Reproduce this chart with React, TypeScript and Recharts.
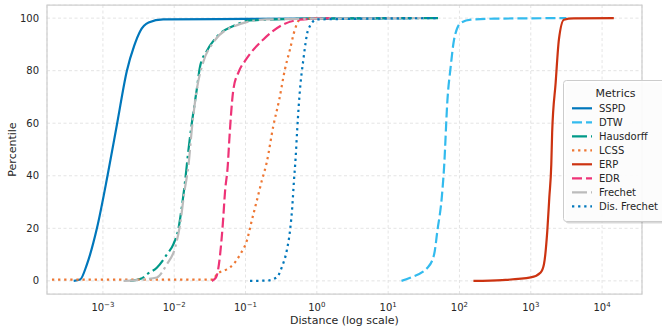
import React from 'react';
import { LineChart, Line, XAxis, YAxis, CartesianGrid, ReferenceArea } from 'recharts';

// ---- data ----
const SERIES_NAMES = ['SSPD', 'DTW', 'Hausdorff', 'LCSS', 'ERP', 'EDR', 'Frechet', 'Dis. Frechet'];

const sspd = [
  { x: 3.89e-4, y: 0 }, { x: 4.79e-4, y: 0.5 }, { x: 5.97e-4, y: 6.3 }, { x: 8.24e-4, y: 20 },
  { x: 1.16e-3, y: 40 }, { x: 1.585e-3, y: 60 }, { x: 2.17e-3, y: 80 }, { x: 2.75e-3, y: 89.5 },
  { x: 3.33e-3, y: 95 }, { x: 4.37e-3, y: 98.3 }, { x: 7.0e-3, y: 99.5 }, { x: 0.1, y: 99.7 },
  { x: 2, y: 99.9 }, { x: 20, y: 100 },
];
const dtw = [
  { x: 15.4, y: 0 }, { x: 20.8, y: 1.3 }, { x: 35.6, y: 5 }, { x: 44.1, y: 10 }, { x: 49.0, y: 19 },
  { x: 56.5, y: 31.7 }, { x: 60.8, y: 43 }, { x: 67.9, y: 69 }, { x: 75.5, y: 81.7 },
  { x: 84.1, y: 91.9 }, { x: 104.2, y: 98.2 }, { x: 143.9, y: 99.4 }, { x: 316, y: 99.8 },
  { x: 3162, y: 100 },
];
const hausdorff = [
  { x: 2.4e-3, y: 0 }, { x: 3.55e-3, y: 1 }, { x: 4.13e-3, y: 2.5 }, { x: 5.7e-3, y: 5 },
  { x: 7.87e-3, y: 10 }, { x: 9.75e-3, y: 14 }, { x: 1.148e-2, y: 20 }, { x: 1.276e-2, y: 28 },
  { x: 1.422e-2, y: 38 }, { x: 1.585e-2, y: 50 }, { x: 1.766e-2, y: 60 }, { x: 2.075e-2, y: 73 },
  { x: 2.307e-2, y: 81.7 }, { x: 2.864e-2, y: 87.5 }, { x: 3.98e-2, y: 93 }, { x: 6.76e-2, y: 97 },
  { x: 0.1156, y: 99.1 }, { x: 1, y: 99.8 }, { x: 50, y: 100 },
];
const lcss = [
  { x: 1.93e-4, y: 0.5 }, { x: 3.55e-2, y: 0.5 }, { x: 3.95e-2, y: 2.5 }, { x: 5.46e-2, y: 4.4 },
  { x: 6.76e-2, y: 6.3 }, { x: 8.38e-2, y: 10 }, { x: 0.104, y: 15.2 }, { x: 0.122, y: 22.8 },
  { x: 0.1436, y: 30.4 }, { x: 0.1687, y: 38 }, { x: 0.198, y: 45 }, { x: 0.245, y: 58.9 },
  { x: 0.297, y: 69 }, { x: 0.357, y: 80.5 }, { x: 0.42, y: 88.1 }, { x: 0.493, y: 95.7 },
  { x: 0.581, y: 99.5 }, { x: 1, y: 100 },
];
const erp = [
  { x: 157, y: 0 }, { x: 398, y: 0.3 }, { x: 1000, y: 1.3 }, { x: 1377, y: 3.2 }, { x: 1531, y: 6.3 },
  { x: 1706, y: 19 }, { x: 1820, y: 31.7 }, { x: 1941, y: 44.4 }, { x: 1995, y: 56.4 },
  { x: 2234, y: 75.4 }, { x: 2483, y: 91.9 }, { x: 2917, y: 99.4 }, { x: 3981, y: 99.9 },
  { x: 14620, y: 100 },
];
const edr = [
  { x: 3.37e-2, y: 0 }, { x: 3.86e-2, y: 1.3 }, { x: 4.4e-2, y: 10 }, { x: 4.8e-2, y: 21.6 },
  { x: 5.16e-2, y: 34 }, { x: 5.64e-2, y: 44 }, { x: 5.93e-2, y: 53.9 }, { x: 6.76e-2, y: 72.9 },
  { x: 8.0e-2, y: 79.5 }, { x: 0.1, y: 84 }, { x: 0.178, y: 91.9 }, { x: 0.339, y: 97.6 },
  { x: 0.581, y: 99.4 }, { x: 1.58, y: 100 },
];
const frechet = [
  { x: 1.945e-3, y: 0 }, { x: 2.99e-3, y: 0.3 }, { x: 5.7e-3, y: 1.3 }, { x: 7.87e-3, y: 6.3 },
  { x: 1.03e-2, y: 12.7 }, { x: 1.21e-2, y: 21.6 }, { x: 1.39e-2, y: 34 }, { x: 1.585e-2, y: 44 },
  { x: 1.766e-2, y: 57.7 }, { x: 2.075e-2, y: 72.9 }, { x: 2.57e-2, y: 83.5 }, { x: 3.55e-2, y: 90.8 },
  { x: 6.76e-2, y: 96.8 }, { x: 0.198, y: 99.5 }, { x: 3.16, y: 99.9 }, { x: 31.6, y: 100 },
];
const disFrechet = [
  { x: 0.1156, y: 0 }, { x: 0.198, y: 0.1 }, { x: 0.2735, y: 1.3 }, { x: 0.321, y: 5 },
  { x: 0.3776, y: 11.4 }, { x: 0.42, y: 19 }, { x: 0.452, y: 28 }, { x: 0.4775, y: 38 },
  { x: 0.5047, y: 47 }, { x: 0.531, y: 57.7 }, { x: 0.581, y: 73 }, { x: 0.6457, y: 84 },
  { x: 0.7586, y: 95.7 }, { x: 1, y: 99.5 }, { x: 50, y: 100 },
];

const X_TICKS = [1e-3, 1e-2, 1e-1, 1, 10, 100, 1000, 10000];
const Y_TICKS = [0, 20, 40, 60, 80, 100];
const X_DOMAIN = [1.644e-4, 36308];
const Y_DOMAIN = [-5, 105];
const X_LABEL = 'Distance (log scale)';
const Y_LABEL = 'Percentile';
const LEGEND_TITLE = 'Metrics';

// ---- styles ----
const FONT = "'DejaVu Sans', sans-serif";
const TEXT = '#262626';
const LW = 2.2;
const DASHED = '10 4';
const DASHDOT = '15 4 2.5 4';
const DOTTED = '2.3 3.8';

const SERIES = [
  { name: SERIES_NAMES[0], data: sspd, color: '#0077BB', dash: undefined },
  { name: SERIES_NAMES[1], data: dtw, color: '#33BBEE', dash: DASHED },
  { name: SERIES_NAMES[2], data: hausdorff, color: '#009988', dash: DASHDOT },
  { name: SERIES_NAMES[3], data: lcss, color: '#EE7733', dash: DOTTED },
  { name: SERIES_NAMES[4], data: erp, color: '#CC3311', dash: undefined },
  { name: SERIES_NAMES[5], data: edr, color: '#EE3377', dash: DASHED },
  { name: SERIES_NAMES[6], data: frechet, color: '#BBBBBB', dash: DASHDOT },
  { name: SERIES_NAMES[7], data: disFrechet, color: '#0077BB', dash: DOTTED },
];

const LogTick = (props: any) => {
  const { x, y, payload } = props;
  const exp = Math.round(Math.log10(payload.value));
  const s = exp < 0 ? '\u2212' + Math.abs(exp) : String(exp);
  return (
    <text x={x} y={y + 9} textAnchor="middle" fill={TEXT} fontFamily={FONT}>
      <tspan fontSize={10}>10</tspan>
      <tspan fontSize={7} dy={-4.5}>{s}</tspan>
    </text>
  );
};

const YLabel = (props: any) => {
  const vb = props.viewBox || { x: 0, y: 5, width: 47, height: 289 };
  const cx = vb.x + 12;
  const cy = vb.y + vb.height / 2;
  return (
    <text x={cx} y={cy} transform={`rotate(-90, ${cx}, ${cy})`} textAnchor="middle"
      dominantBaseline="central" fontSize={11} fill={TEXT} fontFamily={FONT}>{Y_LABEL}</text>
  );
};

const XLabel = (props: any) => {
  const vb = props.viewBox || { x: 47, y: 294, width: 595, height: 37 };
  return (
    <text x={vb.x + vb.width / 2} y={vb.y + 30} textAnchor="middle" fontSize={11}
      fill={TEXT} fontFamily={FONT}>{X_LABEL}</text>
  );
};

const LegendBox = () => {
  const left = 563.5, top = 80.5, w = 104, h = 141;
  return (
    <svg width={662} height={331} style={{ position: 'absolute', left: 0, top: 0, pointerEvents: 'none' }}>
      <rect x={left + 2} y={top + 2} width={w} height={h} rx={3} fill="rgba(0,0,0,0.15)" />
      <rect x={left} y={top} width={w} height={h} rx={3} fill="rgba(255,255,255,0.92)" stroke="#cccccc" strokeWidth={1} />
      <text x={left + w / 2} y={top + 13} textAnchor="middle" dominantBaseline="central" fontSize={11}
        fill={TEXT} fontFamily={FONT}>{LEGEND_TITLE}</text>
      {SERIES.map((s, i) => {
        const cy = 108.3 + i * 14;
        return (
          <g key={s.name}>
            <line x1={572} x2={592} y1={cy} y2={cy} stroke={s.color} strokeWidth={LW}
              strokeDasharray={s.dash} />
            <text x={599} y={cy} dominantBaseline="central" fontSize={10} fill={TEXT}
              fontFamily={FONT}>{s.name}</text>
          </g>
        );
      })}
    </svg>
  );
};

export default function App() {
  return (
    <div style={{ position: 'absolute', left: 0, top: 0, width: 662, height: 331, overflow: 'hidden', background: '#fff' }}>
      <LineChart width={662} height={331} margin={{ top: 5, right: 20, bottom: 0, left: 0 }}>
        <CartesianGrid stroke="#dddddd" strokeDasharray="3 2.5" strokeWidth={0.8} />
        <XAxis
          type="number"
          dataKey="x"
          scale="log"
          domain={X_DOMAIN}
          ticks={X_TICKS}
          allowDataOverflow
          allowDuplicatedCategory={false}
          tickLine={false}
          axisLine={false}
          height={37}
          tick={<LogTick />}
          label={<XLabel />}
        />
        <YAxis
          type="number"
          dataKey="y"
          domain={Y_DOMAIN}
          ticks={Y_TICKS}
          allowDataOverflow
          tickLine={false}
          axisLine={false}
          width={47}
          tick={{ fontSize: 10, fill: TEXT, fontFamily: FONT }}
          label={<YLabel />}
        />
        <ReferenceArea x1={X_DOMAIN[0]} x2={X_DOMAIN[1]} y1={Y_DOMAIN[0]} y2={Y_DOMAIN[1]}
          fill="none" stroke="#cfcfcf" strokeWidth={1.25} fillOpacity={0} />
        {SERIES.map((s) => (
          <Line
            key={s.name}
            name={s.name}
            data={s.data}
            dataKey="y"
            type="monotone"
            stroke={s.color}
            strokeWidth={LW}
            strokeDasharray={s.dash}
            dot={false}
            activeDot={false}
            isAnimationActive={false}
          />
        ))}
      </LineChart>
      <LegendBox />
    </div>
  );
}
